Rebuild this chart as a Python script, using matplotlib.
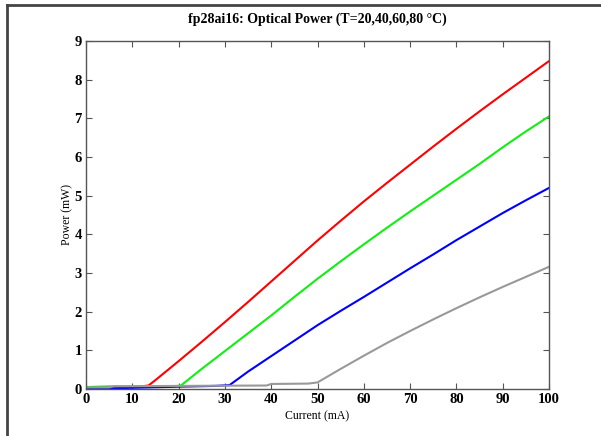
import matplotlib
matplotlib.use("Agg")
import matplotlib.pyplot as plt
from matplotlib.lines import Line2D

# Optical power (mW) vs drive current (mA)
cur_20 = [0, 5, 10, 12, 13.5, 15, 20, 25, 30, 35, 40, 45, 50, 55, 60, 65, 70, 75, 80, 85, 90, 95, 100]
pow_20 = [0.05, 0.06, 0.06, 0.07, 0.09, 0.23, 0.72, 1.22, 1.73, 2.25, 2.78, 3.31, 3.84, 4.35, 4.85, 5.33, 5.80, 6.27, 6.73, 7.18, 7.62, 8.05, 8.48]

cur_40 = [0, 10, 19, 20.5, 25, 30, 35, 40, 45, 50, 55, 60, 65, 70, 75, 80, 85, 90, 95, 100]
pow_40 = [0.05, 0.06, 0.07, 0.09, 0.52, 0.98, 1.44, 1.90, 2.38, 2.85, 3.30, 3.74, 4.17, 4.59, 5.00, 5.41, 5.82, 6.25, 6.66, 7.05]

cur_60 = [0, 5, 10, 20, 28, 31, 35, 40, 45, 50, 55, 60, 65, 70, 75, 80, 85, 90, 95, 100]
pow_60 = [0.00, 0.02, 0.03, 0.06, 0.08, 0.10, 0.45, 0.85, 1.25, 1.65, 2.02, 2.38, 2.75, 3.12, 3.48, 3.85, 4.20, 4.55, 4.88, 5.20]

cur_80 = [0, 5, 6, 20, 39, 40, 48, 50, 55, 60, 65, 70, 75, 80, 85, 90, 95, 100]
pow_80 = [0.04, 0.04, 0.07, 0.08, 0.09, 0.13, 0.14, 0.17, 0.52, 0.86, 1.19, 1.50, 1.80, 2.09, 2.37, 2.64, 2.90, 3.16]

x_ticks = [0, 10, 20, 30, 40, 50, 60, 70, 80, 90, 100]
y_ticks = [0, 1, 2, 3, 4, 5, 6, 7, 8, 9]

plt.rcParams['font.family'] = ['Liberation Serif', 'DejaVu Serif']

fig = plt.figure(figsize=(6.01, 4.36), dpi=100)
ax = fig.add_axes([0.1431, 0.1078, 0.7704, 0.7982])

ax.plot(cur_20, pow_20, color='#ff0000', lw=1.5)
ax.plot(cur_40, pow_40, color='#11ee11', lw=1.5)
ax.plot(cur_60, pow_60, color='#0000ff', lw=1.5)
ax.plot(cur_80, pow_80, color='#999999', lw=1.5)

ax.set_xlim(0, 100)
ax.set_ylim(0, 9)
ax.set_xticks(x_ticks)
ax.set_yticks(y_ticks)
ax.tick_params(direction='in', length=4, width=0.8, color='#555555',
               top=True, right=True, labelsize=10.5, pad=3)
for lab in ax.get_xticklabels() + ax.get_yticklabels():
    lab.set_fontweight('bold')
for sp in ax.spines.values():
    sp.set_color('#555555')
    sp.set_linewidth(1.0)

ax.set_xlabel('Current (mA)', fontsize=8.5, labelpad=3)
ax.set_ylabel('Power (mW)', fontsize=8.5, labelpad=1)
ax.set_title('fp28ai16: Optical Power (T=20,40,60,80 °C)', fontsize=10,
             fontweight='bold', pad=13)

# window frame on top and left edges
fig.add_artist(Line2D([7 / 601, 1], [1 - 5.5 / 436, 1 - 5.5 / 436], color='#444444', lw=2))
fig.add_artist(Line2D([7 / 601, 7 / 601], [0, 1 - 5.5 / 436], color='#444444', lw=2))

fig.savefig('out.png', dpi=100)
